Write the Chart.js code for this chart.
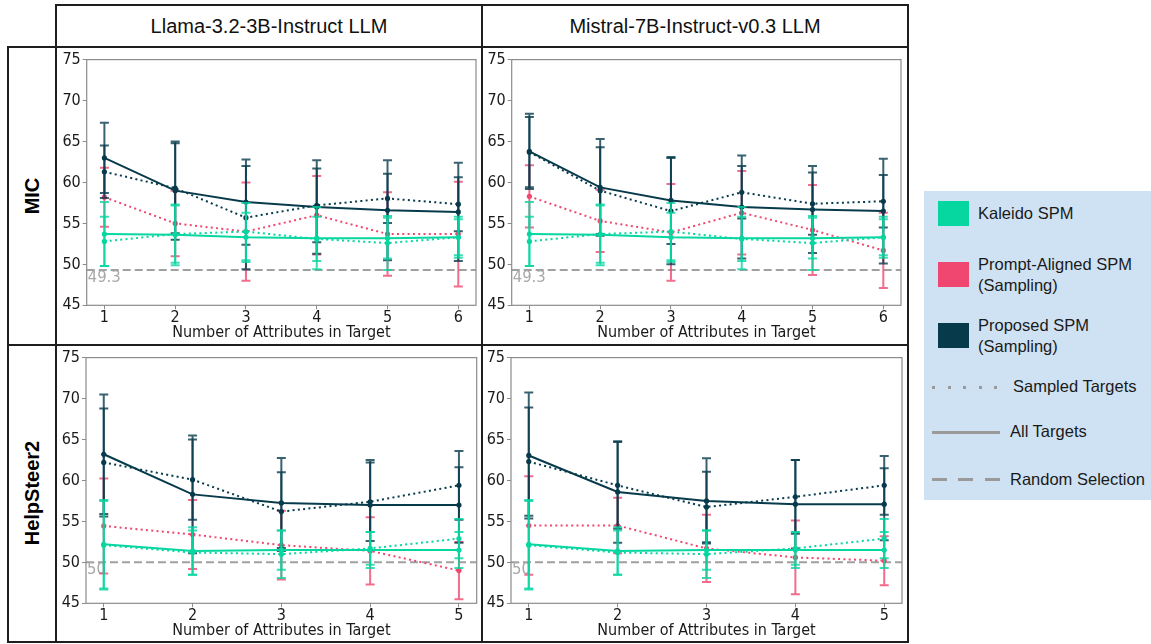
<!DOCTYPE html>
<html>
<head>
<meta charset="utf-8">
<script src="https://cdn.jsdelivr.net/npm/chart.js@4.4.1/dist/chart.umd.min.js"></script>
<style>
  body { margin: 0; background: #fff; font-family: 'Liberation Sans', Arial, sans-serif; }
  #page { position: relative; width: 1151px; height: 644px; overflow: hidden; }
  .ln { position: absolute; background: #1e1e1e; }
  canvas { position: absolute; }
  .colTitle { position: absolute; top: 14px; width: 426px; text-align: center; font-size: 20px; line-height: 24px; color: #111; }
  .rowTitle { position: absolute; width: 298px; height: 24px; line-height: 24px; text-align: center; font-weight: bold; font-size: 20px; color: #000; transform: rotate(-90deg); }
  #legend { position: absolute; left: 924px; top: 191px; width: 227px; height: 309px; background: #cfe2f3; }
  .sw { position: absolute; left: 14px; width: 31px; height: 25px; }
  .lt { position: absolute; font-size: 16.5px; line-height: 21px; color: #1a1a1a; white-space: nowrap; }
  .lk { position: absolute; left: 8px; width: 68px; height: 3px; }
</style>
</head>
<body>
<div id="page">
  <div class="ln" style="left:56px;top:4px;width:853px;height:2px"></div>
  <div class="ln" style="left:8px;top:46px;width:901px;height:2px"></div>
  <div class="ln" style="left:8px;top:344px;width:901px;height:2px"></div>
  <div class="ln" style="left:8px;top:641px;width:901px;height:2px"></div>
  <div class="ln" style="left:7px;top:46px;width:2px;height:597px"></div>
  <div class="ln" style="left:55px;top:4px;width:2px;height:639px"></div>
  <div class="ln" style="left:481px;top:4px;width:2px;height:639px"></div>
  <div class="ln" style="left:907px;top:4px;width:2px;height:639px"></div>

  <div class="colTitle" style="left:56px">Llama-3.2-3B-Instruct LLM</div>
  <div class="colTitle" style="left:482px">Mistral-7B-Instruct-v0.3 LLM</div>
  <div class="rowTitle" style="left:-117px;top:184px">MIC</div>
  <div class="rowTitle" style="left:-117px;top:481px">HelpSteer2</div>

  <canvas id="micLlama" width="424" height="296" style="left:57px;top:48px"></canvas>
  <canvas id="micMistral" width="424" height="296" style="left:483px;top:48px"></canvas>
  <canvas id="hsLlama" width="424" height="295" style="left:57px;top:346px"></canvas>
  <canvas id="hsMistral" width="424" height="295" style="left:483px;top:346px"></canvas>

  <div id="legend">
    <div class="sw" style="top:10px;background:#06d6a0"></div>
    <div class="lt" style="left:54px;top:12px">Kaleido SPM</div>
    <div class="sw" style="top:71px;background:#ef476f"></div>
    <div class="lt" style="left:54px;top:63px">Prompt-Aligned SPM<br>(Sampling)</div>
    <div class="sw" style="top:132px;background:#073b4c"></div>
    <div class="lt" style="left:54px;top:124px">Proposed SPM<br>(Sampling)</div>
    <div class="lk" style="top:195px;background:repeating-linear-gradient(90deg,#9a9a9a 0 3px,transparent 3px 15.5px)"></div>
    <div class="lt" style="left:89px;top:185px">Sampled Targets</div>
    <div class="lk" style="top:240px;background:#9a9a9a"></div>
    <div class="lt" style="left:86px;top:230px">All Targets</div>
    <div class="lk" style="top:287px;background:repeating-linear-gradient(90deg,#9a9a9a 0 15px,transparent 15px 26.5px)"></div>
    <div class="lt" style="left:86px;top:278px">Random Selection</div>
  </div>
</div>

<script>
const xs6 = [1, 2, 3, 4, 5, 6]
const xs5 = [1, 2, 3, 4, 5]
const yTicks = [45, 50, 55, 60, 65, 70, 75]

const green = '#06d6a0'
const pink = '#ef476f'
const dark = '#073b4c'

// Kaleido does not depend on the LLM, same values in both columns
const micKaleidoAll = [53.7, 53.6, 53.3, 53.2, 53.2, 53.3]
const micKaleidoAllErr = [3.9, 3.7, 3.0, 3.8, 2.5, 2.2]
const micKaleidoSampled = [52.8, 53.7, 54.0, 53.1, 52.6, 53.3]
const micKaleidoSampledErr = [3.0, 3.5, 3.5, 2.7, 3.3, 2.5]

// MIC, Llama
const micLlamaPrompt = [58.2, 55.0, 54.0, 56.0, 53.7, 53.7]
const micLlamaPromptErr = [3.6, 4.0, 6.0, 4.8, 5.1, 6.4]
const micLlamaPropAll = [63.0, 59.0, 57.6, 57.0, 56.6, 56.4]
const micLlamaPropAllErr = [4.3, 6.0, 5.2, 5.7, 6.1, 6.0]
const micLlamaPropSampled = [61.3, 59.3, 55.7, 57.2, 58.05, 57.35]
const micLlamaPropSampledErr = [3.2, 5.5, 6.3, 4.5, 3.0, 3.3]

// MIC, Mistral
const micMistralPrompt = [58.3, 55.3, 53.9, 56.3, 54.2, 51.7]
const micMistralPromptErr = [3.8, 3.8, 5.9, 5.1, 5.5, 4.6]
const micMistralPropAll = [63.8, 59.4, 57.8, 57.0, 56.7, 56.5]
const micMistralPropAllErr = [4.6, 5.9, 5.3, 6.3, 5.3, 6.4]
const micMistralPropSampled = [63.7, 59.0, 56.5, 58.8, 57.4, 57.7]
const micMistralPropSampledErr = [4.3, 5.3, 6.5, 3.2, 3.8, 3.2]

// HelpSteer2
const hsKaleidoAll = [52.2, 51.4, 51.5, 51.5, 51.5]
const hsKaleidoAllErr = [5.4, 2.9, 2.4, 2.2, 2.2]
const hsKaleidoSampled = [52.1, 51.2, 51.0, 51.7, 52.9]
const hsKaleidoSampledErr = [5.4, 2.7, 2.9, 2.0, 2.4]

const hsLlamaPrompt = [54.45, 53.4, 52.1, 51.4, 49.0]
const hsLlamaPromptErr = [5.8, 4.2, 4.2, 4.1, 3.5]
const hsLlamaPropAll = [63.2, 58.3, 57.25, 57.0, 57.0]
const hsLlamaPropAllErr = [7.3, 7.2, 5.5, 5.5, 4.6]
const hsLlamaPropSampled = [62.2, 60.1, 56.2, 57.4, 59.4]
const hsLlamaPropSampledErr = [6.6, 4.9, 4.8, 4.8, 4.2]

const hsMistralPrompt = [54.5, 54.5, 51.7, 50.6, 50.2]
const hsMistralPromptErr = [6.0, 3.4, 4.1, 4.5, 3.0]
const hsMistralPropAll = [63.05, 58.6, 57.5, 57.1, 57.1]
const hsMistralPropAllErr = [7.7, 6.2, 5.2, 5.4, 4.4]
const hsMistralPropSampled = [62.3, 59.4, 56.75, 58.0, 59.4]
const hsMistralPropSampledErr = [6.6, 5.3, 4.3, 4.5, 3.6]

const micRandom = 49.3
const hsRandom = 50

const tickFont = "'DejaVu Sans Condensed', 'DejaVu Sans', sans-serif"

function points(xs, vals) {
    return xs.map((x, i) => ({ x: x, y: vals[i] }))
}

function series(xs, vals, errs, color, dotted) {
    return {
        data: points(xs, vals),
        errors: errs,
        borderColor: color,
        backgroundColor: color,
        borderWidth: 2,
        borderDash: dotted ? [2, 3.3] : [],
        pointRadius: 2.6,
        pointHoverRadius: 2.6,
        pointBorderWidth: 0,
        tension: 0
    }
}

// error bars drawn right under each dataset's own line
const errorBars = {
    id: 'errorBars',
    beforeDatasetDraw(chart, args) {
        let ds = chart.data.datasets[args.index]
        if (!ds.errors) return
        let ctx = chart.ctx
        let xScale = chart.scales.x
        let yScale = chart.scales.y
        ctx.save()
        ctx.globalAlpha = 0.8
        ctx.strokeStyle = ds.borderColor
        ctx.lineWidth = 2
        ds.data.forEach((p, i) => {
            let px = xScale.getPixelForValue(p.x)
            let top = yScale.getPixelForValue(p.y + ds.errors[i])
            let bot = yScale.getPixelForValue(p.y - ds.errors[i])
            ctx.beginPath()
            ctx.moveTo(px, top)
            ctx.lineTo(px, bot)
            ctx.moveTo(px - 4.5, top)
            ctx.lineTo(px + 4.5, top)
            ctx.moveTo(px - 4.5, bot)
            ctx.lineTo(px + 4.5, bot)
            ctx.stroke()
        })
        ctx.restore()
    }
}

const frameAndBaseline = {
    id: 'frameAndBaseline',
    beforeDatasetsDraw(chart, args, opts) {
        let ctx = chart.ctx
        let area = chart.chartArea
        let py = chart.scales.y.getPixelForValue(opts.value)
        ctx.save()
        ctx.strokeStyle = '#a0a0a0'
        ctx.lineWidth = 2
        ctx.setLineDash([8, 4])
        ctx.beginPath()
        ctx.moveTo(area.left, py)
        ctx.lineTo(area.right, py)
        ctx.stroke()
        ctx.fillStyle = '#a8a8a8'
        ctx.font = '16.5px ' + tickFont
        ctx.textBaseline = 'top'
        ctx.textAlign = 'left'
        ctx.fillText(opts.label, area.left + 1, py - 1)
        ctx.restore()
    },
    afterDraw(chart) {
        let ctx = chart.ctx
        let area = chart.chartArea
        ctx.save()
        ctx.strokeStyle = '#8c8c8c'
        ctx.lineWidth = 1.2
        ctx.strokeRect(area.left, area.top, area.right - area.left, area.bottom - area.top)
        ctx.restore()
    }
}

function makePanel(id, xs, datasets, randomValue, geo) {
    let n = xs.length
    let margin = (n - 1) * 0.05
    let ctx = document.getElementById(id).getContext('2d')
    return new Chart(ctx, {
        type: 'line',
        data: { datasets: datasets },
        plugins: [errorBars, frameAndBaseline],
        options: {
            responsive: false,
            animation: false,
            events: [],
            layout: { padding: { left: 0, top: geo.top, right: geo.right, bottom: geo.bottom } },
            plugins: {
                legend: { display: false },
                tooltip: { enabled: false },
                frameAndBaseline: { value: randomValue, label: String(randomValue) }
            },
            scales: {
                x: {
                    type: 'linear',
                    min: 1 - margin,
                    max: n + margin,
                    afterBuildTicks: (scale) => { scale.ticks = xs.map(v => ({ value: v })) },
                    afterFit: (scale) => { scale.height = 37 },
                    border: { display: false },
                    grid: { drawOnChartArea: false, drawTicks: true, tickLength: 4, color: '#8c8c8c' },
                    ticks: { color: '#1a1a1a', padding: -1, maxRotation: 0, font: { family: tickFont, size: 16 } },
                    title: {
                        display: true,
                        text: 'Number of Attributes in Target',
                        color: '#1a1a1a',
                        padding: 0,
                        font: { family: tickFont, size: 16 }
                    }
                },
                y: {
                    min: 45,
                    max: 75,
                    afterBuildTicks: (scale) => { scale.ticks = yTicks.map(v => ({ value: v })) },
                    afterFit: (scale) => { scale.width = geo.yWidth },
                    border: { display: false },
                    grid: { drawOnChartArea: false, drawTicks: true, tickLength: 4, color: '#8c8c8c' },
                    ticks: { color: '#1a1a1a', padding: 2, font: { family: tickFont, size: 16 } }
                }
            }
        }
    })
}

// index 0 is drawn on top: green, then dark, pink underneath
makePanel('micLlama', xs6, [
    series(xs6, micKaleidoAll, micKaleidoAllErr, green, false),
    series(xs6, micKaleidoSampled, micKaleidoSampledErr, green, true),
    series(xs6, micLlamaPropAll, micLlamaPropAllErr, dark, false),
    series(xs6, micLlamaPropSampled, micLlamaPropSampledErr, dark, true),
    series(xs6, micLlamaPrompt, micLlamaPromptErr, pink, true)
], micRandom, { top: 11.3, right: 5, bottom: 1.7, yWidth: 29.7 })

makePanel('micMistral', xs6, [
    series(xs6, micKaleidoAll, micKaleidoAllErr, green, false),
    series(xs6, micKaleidoSampled, micKaleidoSampledErr, green, true),
    series(xs6, micMistralPropAll, micMistralPropAllErr, dark, false),
    series(xs6, micMistralPropSampled, micMistralPropSampledErr, dark, true),
    series(xs6, micMistralPrompt, micMistralPromptErr, pink, true)
], micRandom, { top: 11.3, right: 6, bottom: 1.7, yWidth: 28.7 })

makePanel('hsLlama', xs5, [
    series(xs5, hsKaleidoAll, hsKaleidoAllErr, green, false),
    series(xs5, hsKaleidoSampled, hsKaleidoSampledErr, green, true),
    series(xs5, hsLlamaPropAll, hsLlamaPropAllErr, dark, false),
    series(xs5, hsLlamaPropSampled, hsLlamaPropSampledErr, dark, true),
    series(xs5, hsLlamaPrompt, hsLlamaPromptErr, pink, true)
], hsRandom, { top: 10.7, right: 4.3, bottom: 0.7, yWidth: 29 })

makePanel('hsMistral', xs5, [
    series(xs5, hsKaleidoAll, hsKaleidoAllErr, green, false),
    series(xs5, hsKaleidoSampled, hsKaleidoSampledErr, green, true),
    series(xs5, hsMistralPropAll, hsMistralPropAllErr, dark, false),
    series(xs5, hsMistralPropSampled, hsMistralPropSampledErr, dark, true),
    series(xs5, hsMistralPrompt, hsMistralPromptErr, pink, true)
], hsRandom, { top: 10.7, right: 5, bottom: 0.7, yWidth: 28 })
</script>
</body>
</html>
